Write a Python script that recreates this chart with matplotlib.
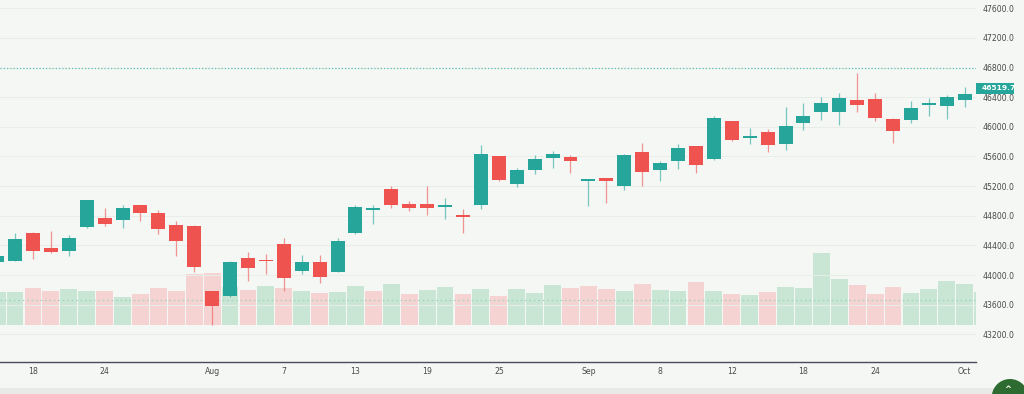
import matplotlib
matplotlib.use("Agg")
import matplotlib.pyplot as plt
import numpy as np
from matplotlib.patches import Circle, Rectangle

# ---- data (daily OHLC, index order) ----
opens = [44176, 44193, 44571, 44369, 44328, 44648, 44770, 44747, 44945, 44833,
         44675, 44666, 43778, 43713, 44226, 44193, 44423, 44050, 44180, 44041,
         44563, 44882, 45161, 44963, 44959, 44918, 44814, 44949, 45602, 45226,
         45413, 45575, 45593, 45273, 45314, 45197, 45663, 45424, 45539, 45737,
         45566, 46075, 45849, 45926, 45768, 46052, 46204, 46204, 46362, 46376,
         46102, 46096, 46299, 46281, 46366, 46443]
highs = [44270, 44563, 44574, 44598, 44540, 45019, 44909, 44945, 44949, 44871,
         44733, 44669, 43784, 44185, 44311, 44288, 44496, 44270, 44270, 44496,
         44945, 44945, 45206, 44999, 45206, 45035, 44891, 45755, 45606, 45444,
         45620, 45678, 45620, 45296, 45316, 45634, 45778, 45543, 45768, 45741,
         46146, 46079, 45980, 45971, 46272, 46318, 46407, 46453, 46731, 46453,
         46115, 46353, 46393, 46434, 46534, 46560]
lows = [44135, 44189, 44216, 44304, 44261, 44628, 44668, 44641, 44733, 44560,
        44257, 44041, 43325, 43710, 43919, 44014, 43784, 44018, 43892, 44037,
        44560, 44685, 44901, 44860, 44806, 44760, 44571, 44891, 45269, 45192,
        45363, 45440, 45373, 44936, 44976, 45152, 45206, 45269, 45431, 45373,
        45559, 45809, 45768, 45664, 45683, 45953, 46096, 46025, 46204, 46083,
        45778, 46048, 46146, 46102, 46268, 46420]
closes = [44257, 44482, 44328, 44311, 44504, 45013, 44685, 44898, 44833, 44617,
          44459, 44115, 43578, 44176, 44099, 44185, 43956, 44176, 43969, 44455,
          44918, 44909, 44941, 44905, 44909, 44941, 44779, 45629, 45282, 45424,
          45566, 45637, 45535, 45296, 45266, 45624, 45390, 45516, 45710, 45485,
          46115, 45822, 45880, 45751, 46015, 46146, 46318, 46385, 46295, 46119,
          45944, 46250, 46326, 46407, 46443, 46519.7]
volumes = [3.33, 3.33, 3.73, 3.37, 3.57, 3.37, 3.37, 2.80, 3.13, 3.67,
           3.43, 5.10, 5.22, 3.83, 3.52, 3.87, 3.67, 3.40, 3.22, 3.30,
           3.87, 3.37, 4.07, 3.13, 3.50, 3.80, 3.10, 3.57, 2.93, 3.63,
           3.20, 4.00, 3.73, 3.93, 3.57, 3.43, 4.15, 3.50, 3.37, 4.30,
           3.40, 3.13, 3.00, 3.30, 3.77, 3.70, 7.23, 4.63, 4.00, 3.13,
           3.77, 3.23, 3.57, 4.40, 4.10, 3.30]
volume_level = 2.5
ref_price = 46800.0
last_price = 46519.7

x_tick_idx = [2, 6, 12, 16, 20, 24, 28, 33, 37, 41, 45, 49, 54]
x_tick_labels = ['18', '24', 'Aug', '7', '13', '19', '25', 'Sep', '8', '12', '18', '24', 'Oct']
price_ticks = np.arange(43200, 47601, 400)

# ---- style ----
BG = '#f4f7f4'
UP = '#26a69a'
DOWN = '#ef5350'
VUP = '#c8e6d3'
VDOWN = '#f5d3d3'
TXT = '#4a4a4a'

W, H = 1024, 394
fig = plt.figure(figsize=(W / 100, H / 100), dpi=100, facecolor=BG)
rect = [0, (H - 362) / H, 976 / W, 362 / H]
ax_vol = fig.add_axes(rect)
ax = fig.add_axes(rect)

o = np.array(opens, float)
h = np.array(highs, float)
l = np.array(lows, float)
c = np.array(closes, float)
v = np.array(volumes, float)
x = np.arange(len(o))

xlim = (0.162, 54.63)

# volume panel
ax_vol.set_facecolor(BG)
prev = np.concatenate([[o[0]], c[:-1]])
vcol = [VUP if c[i] >= prev[i] else VDOWN for i in range(len(c))]
ax_vol.bar(x, v, width=0.94, color=vcol, edgecolor='none', zorder=2)
ax_vol.axhline(volume_level, color='#9fd3b4', lw=0.8, ls=(0, (1.5, 2.5)), zorder=3)
ax_vol.set_xlim(*xlim)
ax_vol.set_ylim(-3.7, 32.5)
ax_vol.axis('off')

# price panel
ax.patch.set_visible(False)
ax.set_xlim(*xlim)
ax.set_ylim(42826.1, 47712.0)
up = c >= o
col = np.where(up, UP, DOWN)
for i in range(len(o)):
    ax.vlines(x[i], l[i], h[i], color=col[i], lw=0.9, alpha=0.6, zorder=3)
bottom = np.minimum(o, c)
height = np.maximum(np.abs(c - o), 20)
ax.bar(x, height, bottom=bottom, width=0.78, color=col, edgecolor='none', zorder=4)

ax.axhline(ref_price, color='#5fbfb4', lw=0.9, ls=(0, (1, 1.6)), zorder=2)

ax.set_yticks(price_ticks)
ax.set_yticklabels([f'{p:.1f}' for p in price_ticks])
ax.yaxis.tick_right()
ax.yaxis.grid(True, color='#e8ede8', lw=0.7, zorder=0)
ax.set_axisbelow(True)
ax.set_xticks(x_tick_idx)
ax.set_xticklabels(x_tick_labels)
ax.tick_params(axis='y', length=0, pad=4.5, labelsize=5.6, labelcolor=TXT)
ax.tick_params(axis='x', length=0, pad=3.5, labelsize=5.6, labelcolor=TXT)
for s in ['top', 'left', 'right']:
    ax.spines[s].set_visible(False)
ax.spines['bottom'].set_color('#4b4b5c')
ax.spines['bottom'].set_linewidth(1.0)

# last price label (box on the price scale, text clipped to it)
disp_y = ax.transData.transform((0, last_price))[1]
box_h = 11.5
box = Rectangle((975.7, disp_y - box_h / 2), 38.3, box_h, transform=None,
                facecolor=UP, edgecolor='none', zorder=10)
fig.patches.append(box)
t = fig.text(981.8 / W, disp_y / H, f'{last_price:.1f}', color='white', fontsize=5.4,
             fontweight='bold', ha='left', va='center', zorder=11)
t.set_clip_path(box)

# bottom strip and scroll button
fig.patches.append(Rectangle((0, 0), 1, 6 / H, transform=fig.transFigure,
                             facecolor='#e7eae7', edgecolor='none', zorder=0))
fig.patches.append(Circle((10.10, -0.033), 0.183, transform=fig.dpi_scale_trans,
                          facecolor='#2e6b30', edgecolor='none', zorder=5))
fig.text(1008 / W, 0.012, '^', color='white', fontsize=6, ha='center', va='center',
         fontweight='bold', zorder=6)

fig.savefig('out.png', dpi=100, facecolor=BG)
